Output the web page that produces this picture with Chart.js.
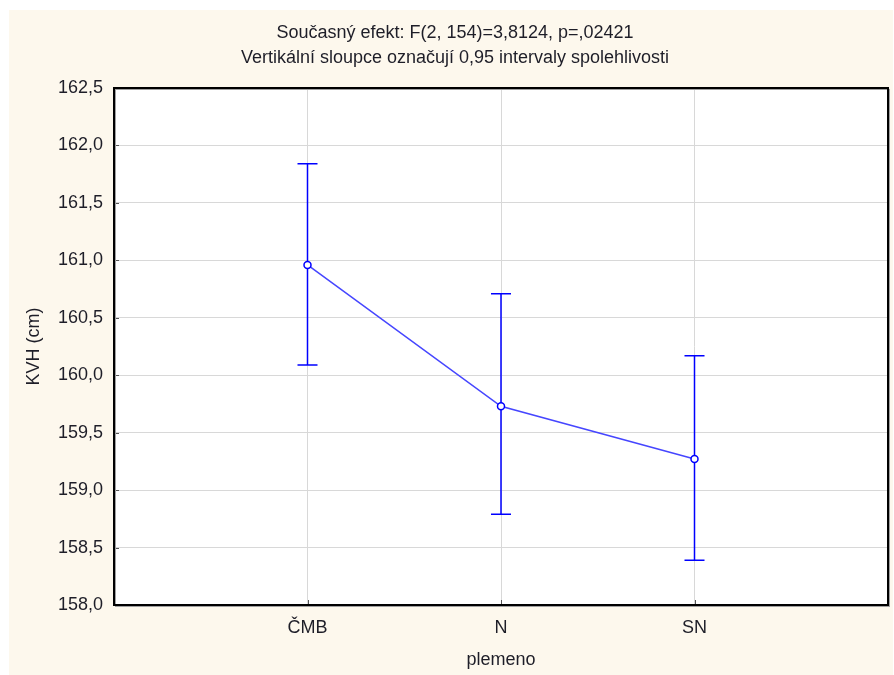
<!DOCTYPE html>
<html>
<head>
<meta charset="utf-8">
<title>KVH podle plemene</title>
<script src="https://cdn.jsdelivr.net/npm/chart.js@4.4.1/dist/chart.umd.min.js"></script>
<style>
    body { margin:0; background:#ffffff; }
    #graf { display:block; }
</style>
</head>
<body>
<canvas id="graf" width="894" height="675"></canvas>
<script>
// plemena a jejich pozice na ose x
const plemena = ['ČMB', 'N', 'SN'];
const poziceX = [1, 2, 3];
// průměry KVH a meze 95% intervalu spolehlivosti
const prumery = [160.96, 159.73, 159.27];
const horniMez = [161.84, 160.71, 160.17];
const dolniMez = [160.09, 158.79, 158.39];
// popisky osy y
const popiskyY = ['158,0','158,5','159,0','159,5','160,0','160,5','161,0','161,5','162,0','162,5'];

const nadpis = ['Současný efekt: F(2, 154)=3,8124, p=,02421',
                'Vertikální sloupce označují 0,95 intervaly spolehlivosti'];

const modra = '#0000ff';
const pismo = 'Arial, "Liberation Sans", sans-serif';
const barvaTextu = '#1e1e28';

const pozadi = {
    id: 'pozadi',
    beforeDraw(chart) {
        const ctx = chart.ctx;
        const a = chart.chartArea;
        ctx.save();
        ctx.fillStyle = '#fdf8ed';
        ctx.fillRect(9, 10, 884, 665);
        ctx.fillStyle = '#ffffff';
        ctx.fillRect(a.left, a.top, a.right - a.left, a.bottom - a.top);
        ctx.restore();
    }
};

// chybové úsečky + rámeček grafu
const usecky = {
    id: 'usecky',
    beforeDatasetsDraw(chart) {
        const ctx = chart.ctx;
        const sx = chart.scales.x, sy = chart.scales.y;
        ctx.save();
        ctx.strokeStyle = modra;
        ctx.lineWidth = 1.5;
        for (let i = 0; i < prumery.length; i++) {
            const x = sx.getPixelForValue(poziceX[i]);
            const y1 = sy.getPixelForValue(horniMez[i]);
            const y2 = sy.getPixelForValue(dolniMez[i]);
            ctx.beginPath();
            ctx.moveTo(x, y1); ctx.lineTo(x, y2);
            ctx.moveTo(x - 10, y1); ctx.lineTo(x + 10, y1);
            ctx.moveTo(x - 10, y2); ctx.lineTo(x + 10, y2);
            ctx.stroke();
        }
        ctx.restore();
    },
    afterDraw(chart) {
        const ctx = chart.ctx;
        const a = chart.chartArea;
        const sx = chart.scales.x, sy = chart.scales.y;
        ctx.save();
        // drobné značky dovnitř grafu
        ctx.strokeStyle = '#555';
        ctx.lineWidth = 1;
        ctx.beginPath();
        sy.ticks.forEach(t => {
            const y = Math.round(sy.getPixelForValue(t.value)) + 0.5;
            ctx.moveTo(a.left, y); ctx.lineTo(a.left + 5, y);
        });
        poziceX.forEach(v => {
            const x = Math.round(sx.getPixelForValue(v)) + 0.5;
            ctx.moveTo(x, a.bottom); ctx.lineTo(x, a.bottom - 5);
        });
        ctx.stroke();
        ctx.strokeStyle = '#a0a0a0';
        ctx.lineWidth = 1;
        ctx.strokeRect(a.left + 1.5, a.top + 1.5, a.right - a.left, a.bottom - a.top);
        ctx.strokeStyle = '#000000';
        ctx.lineWidth = 2;
        ctx.strokeRect(a.left, a.top, a.right - a.left, a.bottom - a.top);
        ctx.restore();
    }
};

new Chart(document.getElementById('graf'), {
    type: 'line',
    data: {
        datasets: [{
            data: poziceX.map((x, i) => ({ x: x, y: prumery[i] })),
            borderColor: '#4646ff',
            borderWidth: 1.5,
            pointRadius: 3.5,
            pointBorderWidth: 1.5,
            pointBorderColor: modra,
            pointBackgroundColor: '#ffffff',
            fill: false,
            tension: 0
        }]
    },
    options: {
        responsive: false,
        animation: false,
        layout: { padding: { left: 22, right: 6, top: 0, bottom: 0 } },
        plugins: {
            legend: { display: false },
            tooltip: { enabled: false },
            title: {
                display: true,
                text: nadpis,
                color: barvaTextu,
                font: { family: pismo, size: 18, weight: 'normal', lineHeight: 1.389 },
                padding: { top: 21, bottom: 17 }
            }
        },
        scales: {
            x: {
                type: 'linear',
                min: 0, max: 4,
                afterBuildTicks(scale) {
                    scale.ticks = poziceX.map(v => ({ value: v }));
                },
                afterFit(scale) { scale.height = 70; },
                ticks: {
                    color: barvaTextu,
                    font: { family: pismo, size: 18 },
                    padding: 12,
                    callback: (v) => plemena[poziceX.indexOf(v)]
                },
                grid: { color: '#d8d8d8', drawTicks: false },
                border: { display: false },
                title: {
                    display: true, text: 'plemeno', color: barvaTextu,
                    font: { family: pismo, size: 18 },
                    padding: { top: 0, bottom: 4 }
                }
            },
            y: {
                min: 158, max: 162.5,
                afterBuildTicks(scale) {
                    scale.ticks = popiskyY.map(s => ({ value: parseFloat(s.replace(',', '.')) }));
                },
                afterFit(scale) { scale.width = 92; },
                ticks: {
                    color: barvaTextu,
                    font: { family: pismo, size: 18 },
                    padding: 11,
                    callback: (v, i) => popiskyY[i]
                },
                grid: { color: '#d8d8d8', drawTicks: false },
                border: { display: false },
                title: {
                    display: true, text: 'KVH (cm)', color: barvaTextu,
                    font: { family: pismo, size: 18 },
                    padding: { top: 1, bottom: 0 }
                }
            }
        }
    },
    plugins: [pozadi, usecky]
});
</script>
</body>
</html>
